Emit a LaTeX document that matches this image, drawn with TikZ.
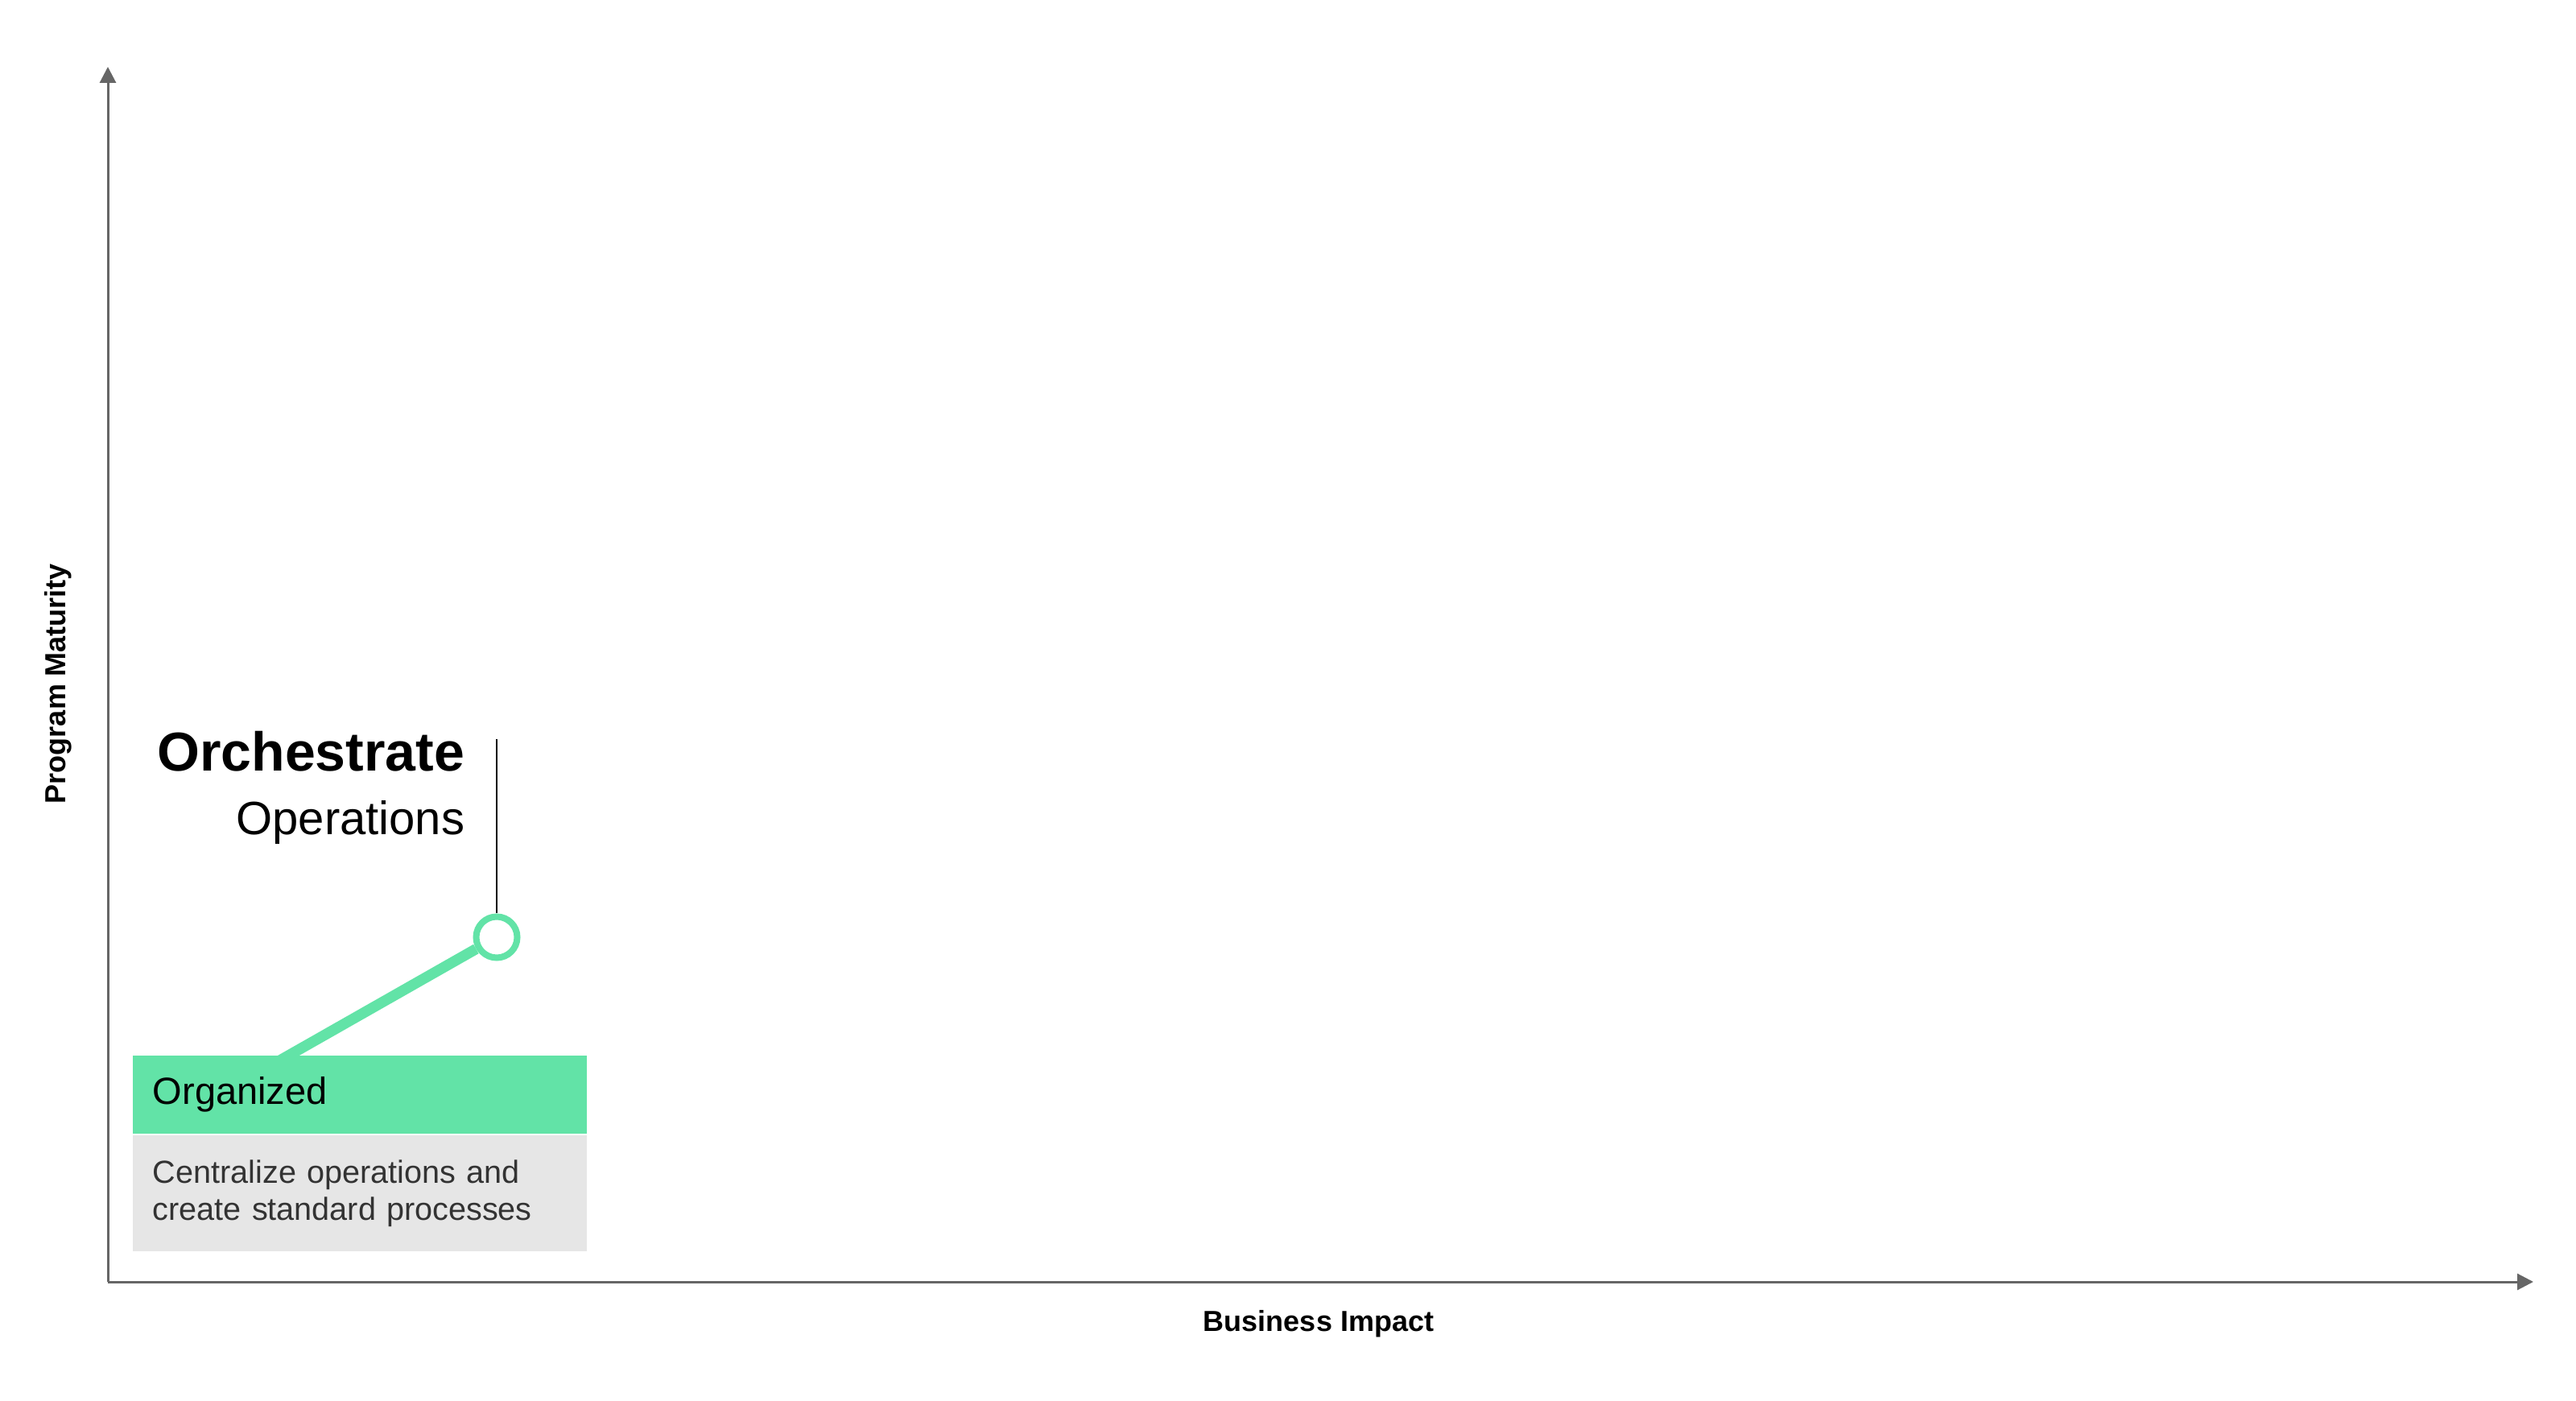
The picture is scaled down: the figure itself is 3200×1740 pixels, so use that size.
\documentclass[tikz,border=0pt]{standalone}
\usepackage{fontspec}
\setmainfont{Liberation Sans}
\usetikzlibrary{arrows.meta,backgrounds}
\definecolor{axisgray}{HTML}{666666}
\definecolor{stagegreen}{HTML}{62E3A7}
\definecolor{stagegray}{HTML}{E6E6E6}
\definecolor{desctext}{HTML}{333333}
\begin{document}
\begin{tikzpicture}[x=0.25pt,y=-0.25pt,
  axis/.style={axisgray, line width=0.75pt, -{Triangle[length=5pt,width=5pt]}},
  axislabel/.style={font=\bfseries\fontsize{9pt}{11pt}\selectfont},
  stagebox/.style={anchor=north west, minimum width=141pt, text width=128.5pt, inner xsep=6.25pt, inner ysep=0pt, align=left},
  headline/.style={anchor=base east, inner sep=0pt},
]
\useasboundingbox (0,0) rectangle (3200,1740);
\coordinate (origin) at (134,1592);
\coordinate (ytop) at (134,83);
\coordinate (xend) at (3147,1592);
\draw[axis] (origin) -- (ytop);
\draw[axis] (origin) -- (xend);
\node[axislabel] (ximpact) at (1638,1644) {Business Impact};
\node[axislabel, rotate=90] (ymaturity) at (72,849) {Program Maturity};
\node[stagebox, fill=stagegreen, minimum height=24.25pt, font=\fontsize{11.75pt}{14pt}\selectfont] (organized) at (164,1310) {Organized};
\node[stagebox, fill=stagegray, minimum height=36pt, text=desctext, font=\fontsize{9.9pt}{11.5pt}\selectfont] (organizeddesc) at (164,1409) {Centralize operations and\\create standard processes};
\node[circle, draw=stagegreen, line width=2pt, fill=white, minimum size=12.75pt, inner sep=0pt] (dot) at (617,1164) {};
\coordinate (leadtop) at (617,918);
\draw[black, line width=0.5pt] (leadtop) -- (dot);
\begin{scope}[on background layer]
\draw[stagegreen, line width=3.3pt] (dot) -- ([xshift=45.5pt,yshift=-2pt]organized.north west);
\end{scope}
\node[headline, font=\bfseries\fontsize{17pt}{20pt}\selectfont] (title) at (578,958) {Orchestrate};
\node[headline, font=\fontsize{14.5pt}{17pt}\selectfont] (subtitle) at (578,1037) {Operations};
\end{tikzpicture}
\end{document}
